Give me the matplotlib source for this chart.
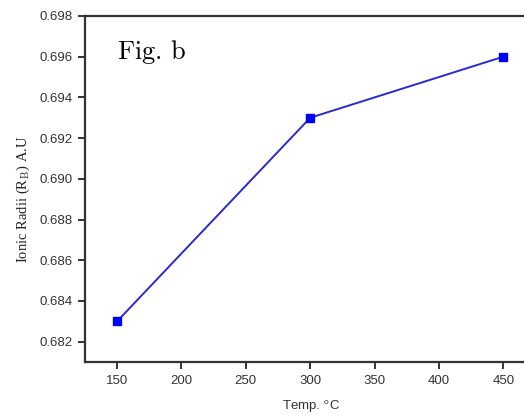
import matplotlib.pyplot as plt

# Data
temps = [150, 300, 450]
radii = [0.683, 0.693, 0.696]
x_ticks = [150, 200, 250, 300, 350, 400, 450]
y_ticks = [0.682, 0.684, 0.686, 0.688, 0.690, 0.692, 0.694, 0.696, 0.698]

plt.rcParams['mathtext.fontset'] = 'cm'
plt.rcParams['font.family'] = ['Liberation Sans', 'DejaVu Sans']

fig = plt.figure(figsize=(5.24, 4.2), dpi=100)
ax = fig.add_axes([0.162, 0.138, 0.838, 0.824])

ax.plot(temps, radii, color='#2a2ad0', linewidth=1.4, marker='s',
        markersize=5.5, markerfacecolor='#0000ff', markeredgecolor='#0000ff')

ax.set_xlim(125, 466)
ax.set_ylim(0.681, 0.698)
ax.set_xticks(x_ticks)
ax.set_yticks(y_ticks)
ax.set_yticklabels([f'{v:.3f}' for v in y_ticks])

for side in ['left', 'bottom', 'top']:
    ax.spines[side].set_linewidth(1.6)
    ax.spines[side].set_color('#333333')
ax.spines['right'].set_visible(False)

ax.tick_params(direction='out', length=5, width=1.4, color='#333333',
               labelsize=9.5, labelcolor='#333333', pad=4)

ax.set_xlabel('Temp. $^{\\mathsf{o}}$C', fontsize=9.5, color='#333333')
ax.xaxis.set_label_coords(0.515, -0.105)
ax.set_ylabel('Ionic Radii (R$_\\mathrm{B}$) A.U', fontsize=10.5,
              family='Liberation Serif', color='#222222')
ax.yaxis.set_label_coords(-0.12, 0.47)

ax.text(0.073, 0.935, r'$\mathrm{Fig.\,b}$', transform=ax.transAxes,
        fontsize=19, va='top', ha='left')

fig.savefig('out.png', dpi=100)
